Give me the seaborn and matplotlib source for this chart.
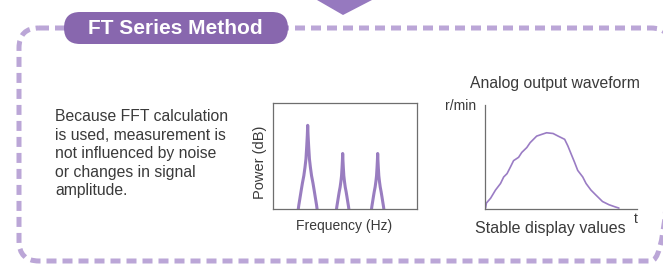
import numpy as np
import pandas as pd
import matplotlib
matplotlib.use("Agg")
import matplotlib.pyplot as plt
from matplotlib.patches import FancyBboxPatch, Polygon
import seaborn as sns

# --- data ---
title_text = "FT Series Method"
body_text = ("Because FFT calculation\nis used, measurement is\nnot influenced by noise\n"
             "or changes in signal\namplitude.")

# spectrum peaks (x axis 0-100, y axis 0-100)
peak_pos = [24.3, 48.6, 72.9]
peak_height = [79, 52.5, 52.5]
peak_halfwidth = [6.7, 4.4, 4.4]
# shape of one peak: offset (fraction of half width) vs fraction of height
profile_offset = [-1.0, -0.92, -0.82, -0.68, -0.55, -0.4, -0.28, -0.18, -0.1, -0.04, 0.0,
                  0.04, 0.1, 0.18, 0.28, 0.4, 0.55, 0.68, 0.82, 0.92, 1.0]
profile_level = [-0.02, 0.05, 0.12, 0.22, 0.31, 0.4, 0.5, 0.6, 0.75, 0.88, 1.0,
                 0.88, 0.75, 0.6, 0.5, 0.4, 0.31, 0.22, 0.12, 0.05, -0.02]

# analog output waveform (t 0-100, r/min 0-100)
wave_t = [0.4, 0.9, 3.7, 6.9, 10.2, 12.3, 14.5, 16.7, 18.8, 22.1, 24.2, 27.5, 29.7,
          34.0, 37.2, 40.5, 44.8, 48.1, 52.4, 54.5, 56.7, 58.9, 61.0, 64.3, 66.5,
          69.7, 72.9, 77.3, 81.6, 85.9, 88.1]
wave_v = [0.9, 5.7, 10.4, 18.2, 24.5, 30.8, 34.0, 40.3, 46.5, 49.7, 54.4, 59.1, 63.8,
          70.1, 71.7, 73.3, 72.6, 70.1, 67.0, 60.7, 52.8, 45.0, 37.1, 30.8, 24.5,
          18.2, 13.5, 7.2, 4.1, 1.9, 0.9]

purple = "#8867ae"
light_purple = "#bba6d7"
line_purple = "#8e6fb9"
text_col = "#3a3a3a"
spine_col = "#6e6e6e"

sns.set_style("white")
plt.rcParams["font.family"] = ["Liberation Sans", "DejaVu Sans"]

W, H = 663, 264
fig = plt.figure(figsize=(W / 100, H / 100), dpi=100)

# background layer in pixel coordinates
bg = fig.add_axes([0, 0, 1, 1])
bg.set_xlim(0, W)
bg.set_ylim(H, 0)
bg.axis("off")

border = FancyBboxPatch((19, 28), 652, 233, boxstyle="round,pad=0,rounding_size=20",
                        fill=False, edgecolor=light_purple, linewidth=3.6,
                        linestyle=(0, (2.0, 1.2)), clip_on=False)
bg.add_patch(border)
bg.add_patch(Polygon([(317, 0), (372, 0), (343, 15)], closed=True,
                     facecolor="#9679bf", edgecolor="none"))
pill = FancyBboxPatch((64, 12), 224, 32, boxstyle="round,pad=0,rounding_size=16",
                      facecolor=purple, edgecolor="none", zorder=3)
bg.add_patch(pill)
bg.text(175, 28.5, title_text, color="white", fontsize=15, fontweight="bold",
        ha="center", va="center", zorder=4)
bg.text(55, 109, body_text, color=text_col, fontsize=11.3, ha="left", va="top",
        linespacing=1.3)

# spectrum panel
ax1 = fig.add_axes([272.7 / W, 1 - 209.3 / H, 144 / W, 106.3 / H])
rows = []
for i, (p, h, hw) in enumerate(zip(peak_pos, peak_height, peak_halfwidth)):
    for o, l in zip(profile_offset, profile_level):
        rows.append({"peak": i, "x": p + o * hw, "y": l * h})
spec = pd.DataFrame(rows)
sns.lineplot(data=spec, x="x", y="y", units="peak", estimator=None, sort=False,
             color=line_purple, linewidth=2.2, alpha=0.9, ax=ax1)
ax1.set_xlim(0, 100)
ax1.set_ylim(0, 100)
ax1.set_xticks([])
ax1.set_yticks([])
for s in ax1.spines.values():
    s.set_color(spine_col)
    s.set_linewidth(0.9)
ax1.set_xlabel("Frequency (Hz)", fontsize=10, color=text_col)
ax1.set_ylabel("Power (dB)", fontsize=10.5, color=text_col)
ax1.xaxis.set_label_coords(0.495, -0.09)
ax1.yaxis.set_label_coords(-0.04, 0.445)

# waveform panel
ax2 = fig.add_axes([485 / W, 1 - 209 / H, 152 / W, 104 / H])
wave = pd.DataFrame({"t": wave_t, "v": wave_v})
sns.lineplot(data=wave, x="t", y="v", color="#9a7cc4", linewidth=1.2, ax=ax2)
ax2.set_xlim(0, 100)
ax2.set_ylim(0, 100)
ax2.set_xticks([])
ax2.set_yticks([])
sns.despine(ax=ax2)
for s in ["left", "bottom"]:
    ax2.spines[s].set_color(spine_col)
    ax2.spines[s].set_linewidth(0.9)
ax2.set_xlabel("Stable display values", fontsize=11.5, color=text_col)
ax2.xaxis.set_label_coords(0.428, -0.115)
ax2.set_ylabel("")
ax2.text(0.46, 1.21, "Analog output waveform", transform=ax2.transAxes,
         fontsize=11.3, color=text_col, ha="center", va="center")
ax2.text(-0.06, 0.99, "r/min", transform=ax2.transAxes, fontsize=10,
         color=text_col, ha="right", va="center")
ax2.text(0.99, -0.1, "t", transform=ax2.transAxes, fontsize=10,
         color=text_col, ha="center", va="center")

fig.savefig("out.png", dpi=100, facecolor="white")
